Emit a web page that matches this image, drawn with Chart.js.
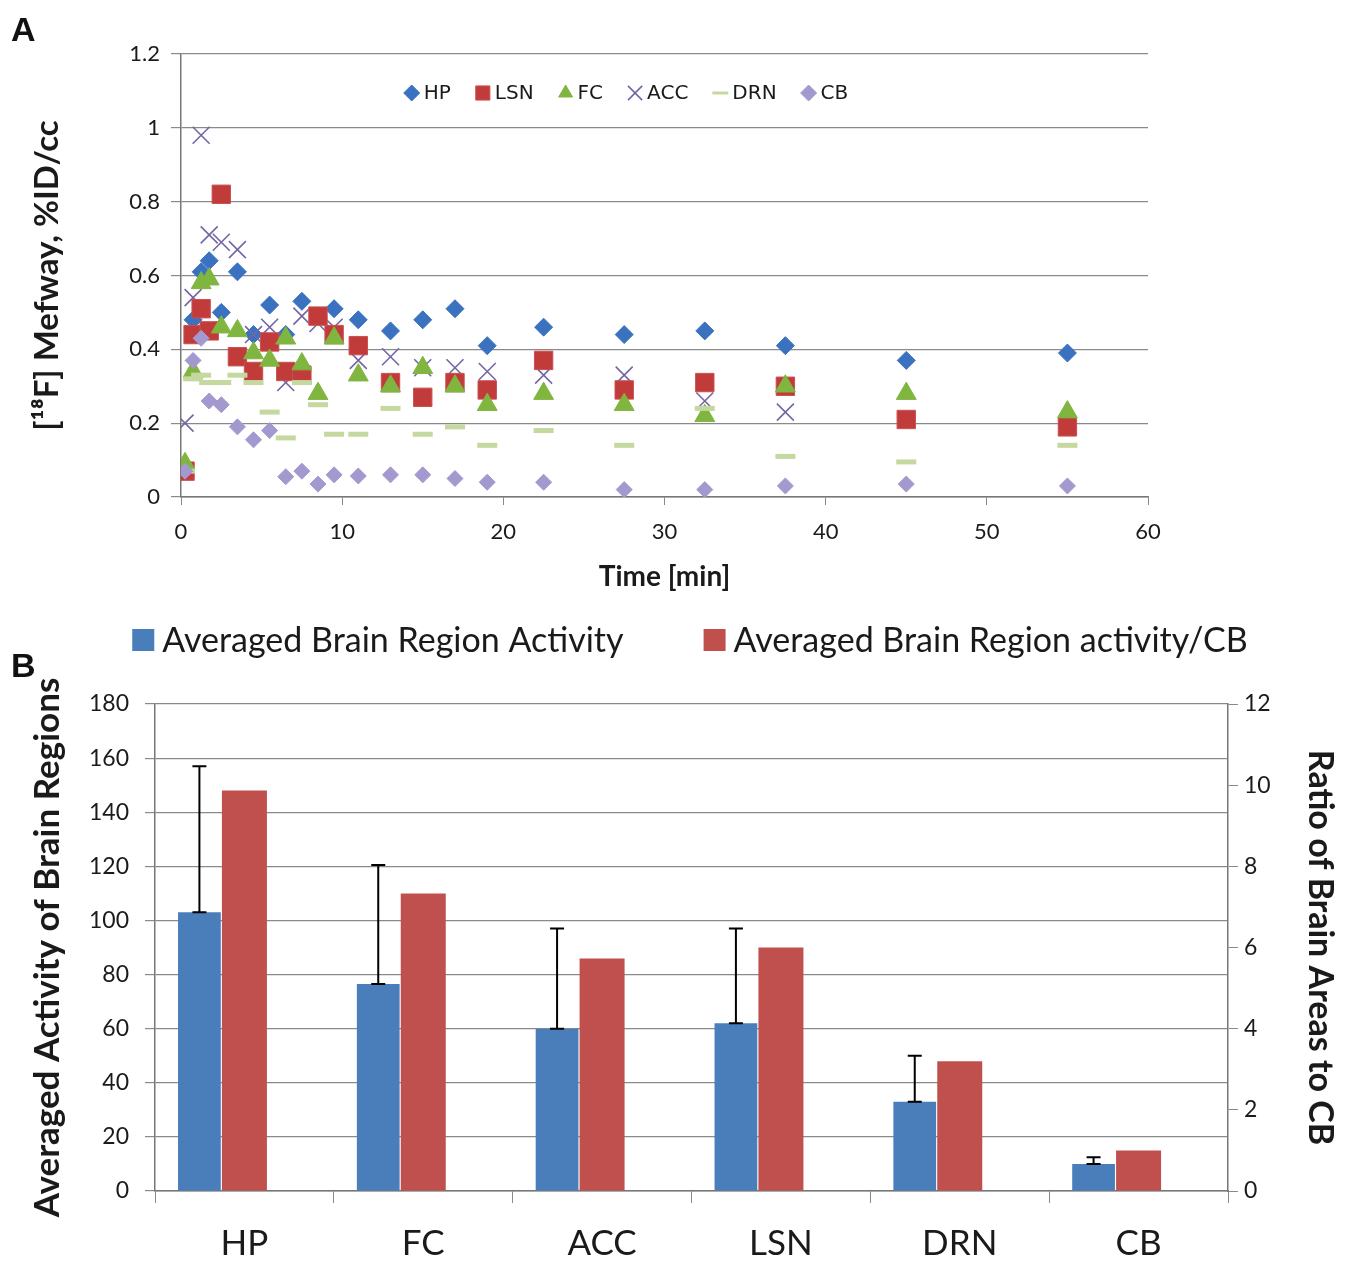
<!DOCTYPE html>
<html><head><meta charset="utf-8">
<script src="https://cdn.jsdelivr.net/npm/chart.js@4.4.0/dist/chart.umd.min.js"></script>
<style>
html,body{margin:0;padding:0;background:#fff;}
#wrap{position:relative;width:1348px;height:1265px;background:#fff;}
.box{position:absolute;left:0;width:1348px;}
#boxA{top:0;height:600px;}
#boxB{top:600px;height:665px;}
.lbl{position:absolute;font-family:Arial,'Liberation Sans',sans-serif;font-weight:bold;font-size:34px;color:#111;}
</style></head><body>
<div id="wrap">
<div class="box" id="boxA"><canvas id="cA"></canvas></div>
<div class="box" id="boxB"><canvas id="cB"></canvas></div>
<div class="lbl" style="left:11px;top:10px;">A</div>
<div class="lbl" style="left:11px;top:646px;">B</div>
</div>
<script>
// ---------- Panel A data ----------
const times = [0.25, 0.75, 1.25, 1.75, 2.5, 3.5, 4.5, 5.5, 6.5, 7.5, 8.5, 9.5, 11, 13, 15, 17, 19, 22.5, 27.5, 32.5, 37.5, 45, 55];
const hpValues  = [0.07, 0.48, 0.61, 0.64, 0.50, 0.61, 0.44, 0.52, 0.44, 0.53, 0.49, 0.51, 0.48, 0.45, 0.48, 0.51, 0.41, 0.46, 0.44, 0.45, 0.41, 0.37, 0.39];
const lsnValues = [0.07, 0.44, 0.51, 0.45, 0.82, 0.38, 0.34, 0.42, 0.34, 0.33, 0.49, 0.44, 0.41, 0.31, 0.27, 0.31, 0.29, 0.37, 0.29, 0.31, 0.30, 0.21, 0.19];
const fcValues  = [0.09, 0.34, 0.58, 0.59, 0.46, 0.45, 0.39, 0.37, 0.43, 0.36, 0.28, 0.43, 0.33, 0.30, 0.35, 0.30, 0.25, 0.28, 0.25, 0.22, 0.30, 0.28, 0.23];
const accValues = [0.20, 0.54, 0.98, 0.71, 0.69, 0.67, 0.44, 0.46, 0.31, 0.49, 0.47, 0.46, 0.37, 0.38, 0.35, 0.35, 0.34, 0.33, 0.33, 0.26, 0.23, 0.21, 0.19];
const drnValues = [0.07, 0.32, 0.33, 0.31, 0.31, 0.33, 0.31, 0.23, 0.16, 0.31, 0.25, 0.17, 0.17, 0.24, 0.17, 0.19, 0.14, 0.18, 0.14, 0.24, 0.11, 0.095, 0.14];
const cbValues  = [0.07, 0.37, 0.43, 0.26, 0.25, 0.19, 0.155, 0.18, 0.055, 0.07, 0.035, 0.06, 0.057, 0.06, 0.06, 0.05, 0.04, 0.04, 0.02, 0.02, 0.03, 0.035, 0.03];
const seriesNamesA = ['HP', 'LSN', 'FC', 'ACC', 'DRN', 'CB'];

// ---------- Panel B data ----------
const categories = ['HP', 'FC', 'ACC', 'LSN', 'DRN', 'CB'];
const activity = [103, 76.5, 60, 62, 33, 10];
const activityErr = [54, 44, 37, 35, 17, 2.5];
const ratioToCB = [9.87, 7.33, 5.73, 6.0, 3.2, 1.0];
const seriesNamesB = ['Averaged Brain Region Activity', 'Averaged Brain Region activity/CB'];

const FONT = "Lato, 'Open Sans', 'DejaVu Sans', sans-serif";
const GRID = '#8a8a8a';
const TXT = '#1a1a1a';

function pts(vals){ return times.map((t,i)=>({x:t, y:vals[i]})); }

const stylesA = [
  {pointStyle:'rectRot', radius:9, bg:'#3a72c0', bd:'#3a72c0', bw:1, order:6},
  {pointStyle:'rect', radius:13, bg:'#c23b3b', bd:'#c95050', bw:1, order:4},
  {pointStyle:'triangle', radius:11.5, bg:'#80b540', bd:'#80b540', bw:1, order:3},
  {pointStyle:'crossRot', radius:12, bg:'#7466a5', bd:'#7466a5', bw:1.6, order:5},
  {pointStyle:'line', radius:10, bg:'#c5d89f', bd:'#c5d89f', bw:5, order:2},
  {pointStyle:'rectRot', radius:8, bg:'#a499cf', bd:'#a499cf', bw:1, order:1}
];
const valsA = [hpValues, lsnValues, fcValues, accValues, drnValues, cbValues];

const datasetsA = seriesNamesA.map((name, i) => ({
  label: name,
  data: pts(valsA[i]),
  pointStyle: stylesA[i].pointStyle,
  pointRadius: stylesA[i].radius,
  pointBackgroundColor: stylesA[i].bg,
  pointBorderColor: stylesA[i].bd,
  pointBorderWidth: stylesA[i].bw,
  showLine: false,
  order: stylesA[i].order
}));

// In-plot legend for panel A
const legendInPlot = {
  id: 'legendInPlot',
  afterDraw(chart) {
    const ctx = chart.ctx;
    const y = 93;
    ctx.save();
    ctx.font = "20px 'DejaVu Sans', sans-serif";
    ctx.textBaseline = 'middle';
    const items = chart.data.datasets.map((d, i) => ({d, s: stylesA[i], w: ctx.measureText(d.label).width}));
    const markerW = 20, gap = 24;
    let total = 0;
    items.forEach((it, i) => { total += markerW + it.w + (i < items.length - 1 ? gap : 0); });
    let x = 626 - total / 2;
    items.forEach(it => {
      const cx = x + 8;
      ctx.fillStyle = it.s.bg; ctx.strokeStyle = it.s.bd; ctx.lineWidth = it.s.pointStyle === 'line' ? 3 : it.s.bw;
      const r = (it.s.pointStyle === 'rect' || it.s.pointStyle === 'crossRot') ? 10 : 8;
      if (Chart.helpers && Chart.helpers.drawPoint) {
        Chart.helpers.drawPoint(ctx, {pointStyle: it.s.pointStyle, radius: r, rotation: 0, borderWidth: ctx.lineWidth}, cx, y);
      }
      ctx.fillStyle = TXT;
      ctx.textAlign = 'left';
      ctx.fillText(it.d.label, x + markerW, y + 1);
      x += markerW + it.w + gap;
    });
    ctx.restore();
  }
};

new Chart(document.getElementById('cA'), {
  type: 'scatter',
  data: {datasets: datasetsA},
  options: {
    responsive: true, maintainAspectRatio: false, animation: false,
    layout: {padding: {left: 0, right: 200, top: 54, bottom: 0}},
    plugins: {legend: {display: false}, tooltip: {enabled: false}},
    scales: {
      x: {
        type: 'linear', min: 0, max: 60,
        ticks: {stepSize: 10, color: TXT, font: {family: FONT, size: 22}, padding: 14},
        grid: {drawOnChartArea: false, drawTicks: true, tickLength: 8, color: GRID},
        border: {color: '#777', width: 1.5},
        title: {display: true, text: 'Time [min]', color: TXT, font: {family: FONT, size: 28, weight: 'bold'}, padding: {top: 0, bottom: 6}},
        afterFit: (s) => { s.height = 103; }
      },
      y: {
        min: 0, max: 1.2,
        ticks: {stepSize: 0.2, color: TXT, font: {family: FONT, size: 22}, padding: 11,
          callback: (v) => String(+Number(v).toFixed(1))},
        grid: {color: GRID, lineWidth: 1.2, tickLength: 10},
        border: {color: '#777', width: 1.5},
        title: {display: true, text: '[\u00B9\u2078F] Mefway, %ID/cc', color: TXT, font: {family: FONT, size: 33, weight: 'bold'}, padding: {top: 28, bottom: 0}},
        afterFit: (s) => { s.width = 181; }
      }
    }
  },
  plugins: [legendInPlot]
});

// Error bars for panel B
const errorBars = {
  id: 'errorBars',
  afterDatasetsDraw(chart) {
    const meta = chart.getDatasetMeta(0);
    const ys = chart.scales.y;
    const ctx = chart.ctx;
    ctx.save();
    ctx.strokeStyle = '#000';
    ctx.lineWidth = 2;
    meta.data.forEach((el, i) => {
      const x = el.x;
      const y0 = ys.getPixelForValue(activity[i]);
      const y1 = ys.getPixelForValue(activity[i] + activityErr[i]);
      ctx.beginPath();
      ctx.moveTo(x, y0); ctx.lineTo(x, y1);
      ctx.moveTo(x - 7, y1); ctx.lineTo(x + 7, y1);
      ctx.moveTo(x - 7, y0); ctx.lineTo(x + 7, y0);
      ctx.stroke();
    });
    ctx.restore();
  }
};

// Top legend for panel B
const legendTopB = {
  id: 'legendTopB',
  afterDraw(chart) {
    const ctx = chart.ctx;
    const y = 40;
    ctx.save();
    ctx.font = "34px " + FONT;
    ctx.textBaseline = 'middle';
    ctx.textAlign = 'left';
    const items = chart.data.datasets.filter(d => d.label !== 'spacer').map(d => ({d, w: ctx.measureText(d.label).width}));
    const box = 22, tgap = 8, igap = 80;
    let total = 0;
    items.forEach((it, i) => { total += box + tgap + it.w + (i < items.length - 1 ? igap : 0); });
    let x = 690 - total / 2;
    items.forEach(it => {
      ctx.fillStyle = it.d.backgroundColor;
      ctx.fillRect(x, y - box / 2, box, box);
      ctx.fillStyle = TXT;
      ctx.fillText(it.d.label, x + box + tgap, y + 1);
      x += box + tgap + it.w + igap;
    });
    ctx.restore();
  }
};

new Chart(document.getElementById('cB'), {
  type: 'bar',
  data: {
    labels: categories,
    datasets: [
      {label: seriesNamesB[0], data: activity, yAxisID: 'y', backgroundColor: '#4a7ebb', barPercentage: 0.95, categoryPercentage: 0.755},
      {label: seriesNamesB[1], data: ratioToCB, yAxisID: 'y1', backgroundColor: '#c0504d', barPercentage: 1.0, categoryPercentage: 0.755},
      {label: 'spacer', data: categories.map(() => null), yAxisID: 'y', backgroundColor: 'rgba(0,0,0,0)', barPercentage: 1.0, categoryPercentage: 0.755}
    ]
  },
  options: {
    responsive: true, maintainAspectRatio: false, animation: false,
    layout: {padding: {left: 0, right: 0, top: 104, bottom: 0}},
    plugins: {tooltip: {enabled: false}, legend: {display: false}},
    scales: {
      x: {
        ticks: {color: TXT, font: {family: FONT, size: 35}, padding: 20},
        grid: {offset: true, drawOnChartArea: false, drawTicks: true, tickLength: 12, color: GRID},
        border: {color: '#777', width: 1.5},
        afterFit: (s) => { s.height = 74; }
      },
      y: {
        position: 'left', min: 0, max: 180,
        ticks: {stepSize: 20, color: TXT, font: {family: FONT, size: 23}, padding: 16},
        grid: {color: GRID, lineWidth: 1.2, tickLength: 10},
        border: {color: '#777', width: 1.5},
        title: {display: true, text: 'Averaged Activity of Brain Regions', color: TXT, font: {family: FONT, size: 35, weight: 'bold'}, padding: {top: 27, bottom: 0}},
        afterFit: (s) => { s.width = 155; }
      },
      y1: {
        position: 'right', min: 0, max: 12,
        ticks: {stepSize: 2, color: TXT, font: {family: FONT, size: 23}, padding: 6},
        grid: {drawOnChartArea: false, drawTicks: true, tickLength: 10, color: GRID},
        border: {color: '#777', width: 1.5},
        title: {display: true, text: 'Ratio of Brain Areas to CB', color: TXT, font: {family: FONT, size: 34, weight: 'bold'}, padding: {top: 8, bottom: 0}},
        afterFit: (s) => { s.width = 120; }
      }
    }
  },
  plugins: [errorBars, legendTopB]
});
</script>
</body></html>
